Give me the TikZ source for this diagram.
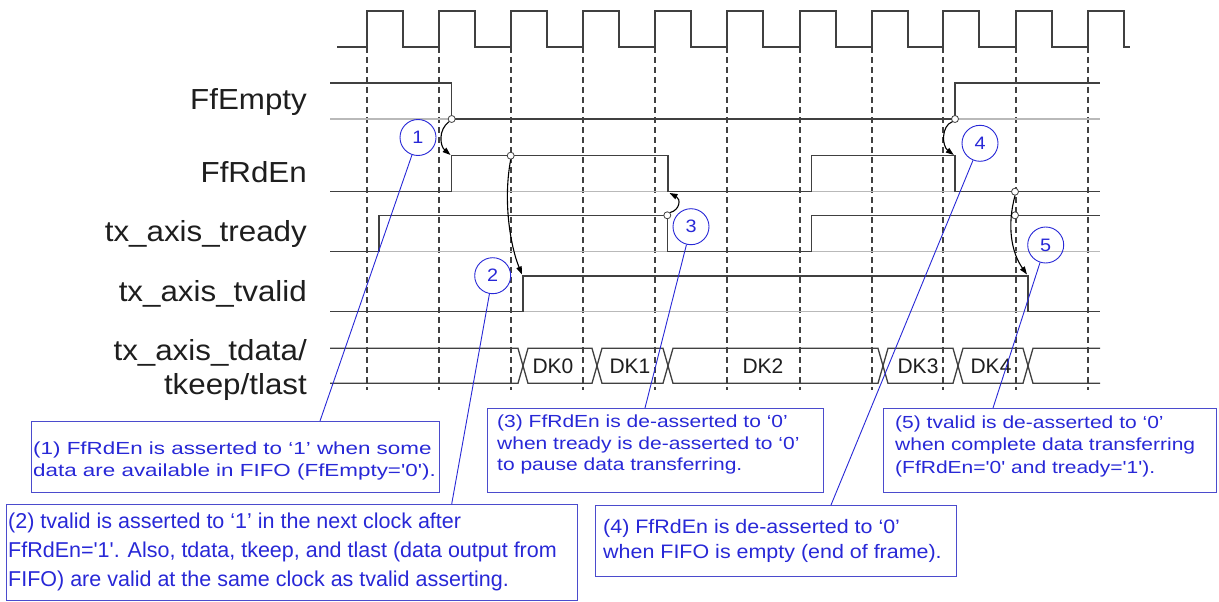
\documentclass[tikz,border=0pt]{standalone}
\usepackage{fontspec}
\setmainfont{Liberation Sans}
\newfontfamily\fLab[FakeStretch=1.08,Ligatures=TeXOff]{Liberation Sans}
\newfontfamily\fBox[FakeStretch=1.2,Ligatures=TeXOff]{Liberation Sans}
\newfontfamily\fBoxA[FakeStretch=1.28,Ligatures=TeXOff]{Liberation Sans}
\newfontfamily\fBoxB[FakeStretch=1.0,Ligatures=TeXOff]{Liberation Sans}
\newfontfamily\fBoxD[FakeStretch=1.1,Ligatures=TeXOff]{Liberation Sans}
\usetikzlibrary{arrows.meta}
\definecolor{sig}{RGB}{64,64,64}
\definecolor{gridc}{RGB}{185,185,185}
\definecolor{callblue}{RGB}{40,40,215}
\definecolor{boxblue}{RGB}{75,75,205}
\definecolor{labc}{RGB}{30,30,30}
\begin{document}
\begin{tikzpicture}[x=1pt,y=-1pt,
  sigline/.style={draw=sig,line width=1.3pt},
  gridln/.style={draw=gridc,line width=1.1pt},
  dashln/.style={draw=sig,line width=1.2pt,dash pattern=on 6pt off 4pt},
  tick/.style={circle,draw=sig,fill=white,inner sep=0pt,minimum size=7pt,line width=0.8pt},
  causal/.style={draw=black,line width=1.1pt,-{Triangle[length=8pt,width=5.5pt]}},
  callout/.style={circle,draw=callblue,text=callblue,line width=0.9pt,minimum size=36pt,inner sep=0pt,font=\fBoxD\fontsize{18}{18}\selectfont},
  leader/.style={draw=callblue,line width=0.9pt},
  cbox/.style={draw=boxblue,line width=1.2pt,inner sep=0pt,anchor=north west},
  boxtxt/.style={text=callblue,align=left,inner sep=0pt,anchor=west},
  siglab/.style={anchor=base east,inner sep=0pt,font=\fLab\fontsize{29}{34}\selectfont,text=labc},
  dklab/.style={inner sep=0pt,font=\fBoxB\fontsize{21}{21}\selectfont,text=labc}
]
\useasboundingbox[fill=white] (0,0) rectangle (1219,602);

% clock
\draw[sigline] (337,47)
  \foreach \r in {367,439,511,583,655,727,800,872,943,1016,1088} { -- (\r,47) -- (\r,11) -- ({\r+36},11) -- ({\r+36},47) }
  -- (1130,47);
\foreach \r in {367,439,511,583,655,727,800,872,943,1016,1088}
  \draw[dashln] (\r,47) -- (\r,390);

% signal labels
\node[siglab] (lEmpty) at (307,110) {FfEmpty};
\node[siglab] (lRdEn) at (307,182.5) {FfRdEn};
\node[siglab] (lReady) at (307,241.5) {tx\_axis\_tready};
\node[siglab] (lValid) at (307,301.5) {tx\_axis\_tvalid};
\node[siglab] (lData) at (307,360) {tx\_axis\_tdata/};
\node[siglab] (lKeep) at (307,394) {tkeep/tlast};

% grey base lines
\foreach \y in {119,191.7,251.7,311.7}
  \draw[gridln] (330,\y) -- (1100,\y);

% waveforms
\draw[sigline] (330,83) -- (451.7,83) -- (451.7,119) -- (955,119) -- (955,83) -- (1100,83);
\draw[sigline] (330,191.7) -- (451.7,191.7) -- (451.7,155.7) -- (668,155.7) -- (668,191.7) -- (811.7,191.7) -- (811.7,155.7) -- (955,155.7) -- (955,191.7) -- (1100,191.7);
\draw[sigline] (330,251.7) -- (379,251.7) -- (379,215.3) -- (667.3,215.3) -- (667.3,251.7) -- (811.7,251.7) -- (811.7,215.3) -- (1100,215.3);
\draw[sigline] (330,311.7) -- (523,311.7) -- (523,276) -- (1028,276) -- (1028,311.7) -- (1100,311.7);

% data bus
\draw[sigline] (330,348.3) -- (518,348.3) -- (528,383.3) -- (592,383.3) -- (602,348.3) -- (663,348.3) -- (673,383.3) -- (878,383.3) -- (888,348.3) -- (953,348.3) -- (963,383.3) -- (1023,383.3) -- (1033,348.3) -- (1100,348.3);
\draw[sigline] (330,383.3) -- (518,383.3) -- (528,348.3) -- (592,348.3) -- (602,383.3) -- (663,383.3) -- (673,348.3) -- (878,348.3) -- (888,383.3) -- (953,383.3) -- (963,348.3) -- (1023,348.3) -- (1033,383.3) -- (1100,383.3);
\node[dklab] (dk0) at (553,366) {DK0};
\node[dklab] (dk1) at (630,366) {DK1};
\node[dklab] (dk2) at (763,366) {DK2};
\node[dklab] (dk3) at (918,366) {DK3};
\node[dklab] (dk4) at (991,366) {DK4};

% causal arrows
\node[tick] (s1) at (451.7,119) {};
\node[tick] (s2) at (510.7,155.7) {};
\node[tick] (s3) at (667.3,215.3) {};
\node[tick] (s4) at (955,119) {};
\node[tick] (s5) at (1015,191.7) {};
\node[tick] (s6) at (1015,215.3) {};
\coordinate (t1) at (450.5,155);
\coordinate (t2) at (522,274.5);
\coordinate (t3) at (669.5,193);
\coordinate (t4) at (953.8,155);
\coordinate (t5) at (1027,274.5);
\draw[causal] (s1.south west) .. controls (438,130) and (440,146) .. (t1);
\draw[causal] (s2.south) .. controls (503,200) and (510,245) .. (t2);
\draw[causal] (s3.north east) .. controls (680,210) and (681,199) .. (t3);
\draw[causal] (s4.south west) .. controls (941,126) and (942,146) .. (t4);
\draw[causal] (s5.south) .. controls (1007,225) and (1011,252) .. (t5);

% callouts
\node[callout] (n1) at (418,137.5) {1};
\node[callout] (n2) at (492.7,275.7) {2};
\node[callout] (n3) at (691,226.7) {3};
\node[callout] (n4) at (980,143.3) {4};
\node[callout] (n5) at (1045.7,245) {5};

% boxes
\node[cbox,minimum width=408pt,minimum height=71pt] (b1) at (31,421) {};
\node[cbox,minimum width=571pt,minimum height=96pt] (b2) at (6,504) {};
\node[cbox,minimum width=336pt,minimum height=84pt] (b3) at (487,408) {};
\node[cbox,minimum width=361pt,minimum height=71pt] (b4) at (595,505) {};
\node[cbox,minimum width=333pt,minimum height=84pt] (b5) at (883,408) {};

\node[boxtxt,font=\fBoxA\fontsize{17.5}{22}\selectfont] (x1) at (33,460.5)
  {(1) FfRdEn is asserted to ‘1’ when some\\data are available in FIFO (FfEmpty='0').};
\node[boxtxt,font=\fBoxB\fontsize{21.5}{29}\selectfont] (x2) at (8,551.5)
  {(2) tvalid is asserted to ‘1’ in the next clock after\\FfRdEn='1'. Also, tdata, tkeep, and tlast (data output from\\FIFO) are valid at the same clock as tvalid asserting.};
\node[boxtxt,font=\fBox\fontsize{17.5}{21.5}\selectfont] (x3) at (497,444.7)
  {(3) FfRdEn is de-asserted to ‘0’\\when tready is de-asserted to ‘0’\\to pause data transferring.};
\node[boxtxt,font=\fBoxD\fontsize{19.5}{25}\selectfont] (x4) at (603,540.5)
  {(4) FfRdEn is de-asserted to ‘0’\\when FIFO is empty (end of frame).};
\node[boxtxt,font=\fBox\fontsize{17.5}{22.5}\selectfont] (x5) at (895,446)
  {(5) tvalid is de-asserted to ‘0’\\when complete data transferring\\(FfRdEn='0' and tready='1').};

% leader lines
\coordinate (a1) at (320,421);
\coordinate (a2) at (451.7,504);
\coordinate (a3) at (645,408);
\coordinate (a4) at (831,505);
\coordinate (a5) at (993,408);
\draw[leader] (n1) -- (a1);
\draw[leader] (n2) -- (a2);
\draw[leader] (n3) -- (a3);
\draw[leader] (n4) -- (a4);
\draw[leader] (n5) -- (a5);
\end{tikzpicture}
\end{document}
